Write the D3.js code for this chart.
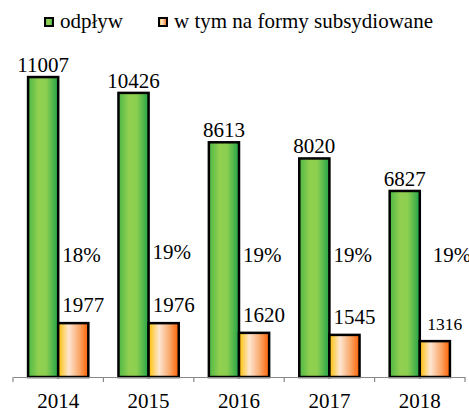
<!DOCTYPE html>
<html>
<head>
<meta charset="utf-8">
<script src="https://cdn.jsdelivr.net/npm/d3@7"></script>
</head>
<body style="margin:0;background:#fff">
<div style="position:relative;width:469px;height:409px">
  <svg id="chart" width="469" height="409" style="position:absolute;left:0;top:0"></svg>
  <svg id="labels" width="469" height="409" style="position:absolute;left:0;top:0"></svg>
</div>
<script>
// data
const years = ["2014", "2015", "2016", "2017", "2018"];
const outflow = [11007, 10426, 8613, 8020, 6827];
const subsidised = [1977, 1976, 1620, 1545, 1316];
const shares = ["18%", "19%", "19%", "19%", "19%"];
const seriesNames = ["odpływ", "w tym na formy subsydiowane"];

const FONT = "Liberation Serif";
const mLeft = 13, mRight = 465, mTop = 50, mBottom = 377;

const svg = d3.select("#chart");
const lab = d3.select("#labels").attr("font-family", FONT);

/* gradients */
const defs = svg.append("defs");
const grad = (id, stops) => {
  const g = defs.append("linearGradient").attr("id", id)
    .attr("x1", "0%").attr("x2", "100%").attr("y1", "0%").attr("y2", "0%");
  stops.forEach(([o, c]) => g.append("stop").attr("offset", o).attr("stop-color", c));
};
grad("gGreen", [["0%", "#4cb846"], ["35%", "#92d050"], ["60%", "#8ccf50"], ["100%", "#22a348"]]);
grad("gOrange", [["0%", "#ffc000"], ["35%", "#fde6d2"], ["70%", "#f9a86a"], ["100%", "#ff6000"]]);
const fills = ["url(#gGreen)", "url(#gOrange)"];

/* scales */
const x = d3.scaleBand().domain(years).range([mLeft, mRight]).padding(0);
const bw = x.bandwidth();
const x1 = d3.scaleBand().domain([0, 1]).range([bw / 6, bw * 5 / 6]).padding(0);
const y = d3.scaleLinear().domain([0, 12000]).range([mBottom, mTop]);

/* bars */
years.forEach((yr, i) => {
  [outflow[i], subsidised[i]].forEach((v, j) => {
    svg.append("rect")
      .attr("x", x(yr) + x1(j))
      .attr("y", y(v))
      .attr("width", x1.bandwidth())
      .attr("height", y(0) - y(v))
      .attr("fill", fills[j])
      .attr("stroke", "#000")
      .attr("stroke-width", 2.5);
  });
});

/* labels, on their own layer */
years.forEach((yr, i) => {
  const gx = x(yr);
  lab.append("text")
    .attr("x", gx + x1(0) + x1.bandwidth() / 2)
    .attr("y", y(outflow[i]) - 5)
    .attr("text-anchor", "middle")
    .attr("font-family", FONT)
    .attr("font-size", 21)
    .text(String(outflow[i]));

  lab.append("text")
    .attr("x", gx + x1(1) + x1.bandwidth() / 2 + 10)
    .attr("y", y(subsidised[i]) - 11)
    .attr("text-anchor", "middle")
    .attr("font-family", FONT)
    .attr("font-size", i === 4 ? 17.5 : 21)
    .text(String(subsidised[i]));

  lab.append("text")
    .attr("x", gx + x1(1) + 4 + (i === 4 ? 9 : 0))
    .attr("y", i === 1 ? 259 : 262)
    .attr("font-family", FONT)
    .attr("font-size", 21)
    .text(shares[i]);
});

/* x axis */
const axis = svg.append("g").attr("transform", `translate(0,${mBottom})`)
  .call(d3.axisBottom(x).tickSize(0).tickPadding(16));
axis.attr("font-family", FONT);
axis.select(".domain").attr("stroke", "#888").attr("stroke-width", 1.2);
axis.selectAll("text").attr("font-size", 21).attr("font-family", FONT).attr("fill", "#000");

const bounds = years.map(d => x(d)).concat([mRight]);
axis.selectAll("line.bt").data(bounds).join("line").attr("class", "bt")
  .attr("x1", d => d).attr("x2", d => d)
  .attr("y1", 0).attr("y2", 5)
  .attr("stroke", "#888").attr("stroke-width", 1.2);

/* legend */
const legX = [45, 159];
seriesNames.forEach((name, j) => {
  svg.append("rect")
    .attr("x", legX[j]).attr("y", 18).attr("width", 8).attr("height", 8)
    .attr("fill", fills[j]).attr("stroke", "#000").attr("stroke-width", 2);
  lab.append("text")
    .attr("x", legX[j] + 15).attr("y", 28)
    .attr("font-family", FONT)
    .attr("font-size", 21)
    .text(name);
});
</script>
</body>
</html>
